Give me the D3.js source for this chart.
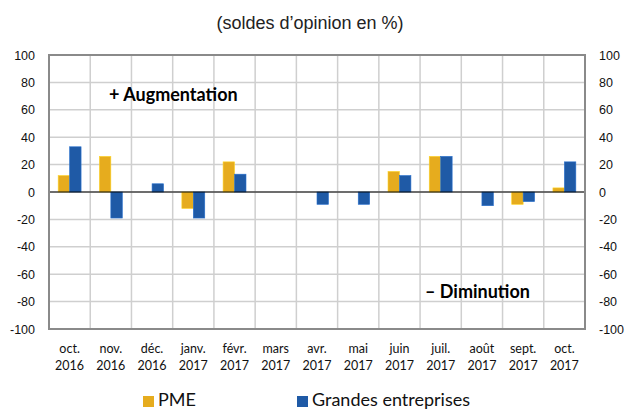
<!DOCTYPE html>
<html>
<head>
<meta charset="utf-8">
<script src="https://cdn.jsdelivr.net/npm/d3@7"></script>
<style>
  body { margin: 0; background: #fff; }
</style>
</head>
<body>
<div id="chart-area"></div>
<script>
var months = ["oct.", "nov.", "déc.", "janv.", "févr.", "mars", "avr.", "mai", "juin", "juil.", "août", "sept.", "oct."]
var years = ["2016", "2016", "2016", "2017", "2017", "2017", "2017", "2017", "2017", "2017", "2017", "2017", "2017"]
var series = ["PME", "Grandes entreprises"]
var pme = [12, 26, 0, -12, 22, 0, 0, 0, 15, 26, 0, -9, 3]
var grandes = [33, -19, 6, -19, 13, 0, -9, -9, 12, 26, -10, -7, 22]
var yTicks = [-100, -80, -60, -40, -20, 0, 20, 40, 60, 80, 100]
var colors = ["#E6AC1E", "#1F5AA6"]

var width = 625, height = 409
var margin = { left: 49, right: 40, top: 55, bottom: 80 }
var plotW = width - margin.left - margin.right
var plotH = height - margin.top - margin.bottom

var svg = d3.select("#chart-area").append("svg")
    .attr("width", width)
    .attr("height", height)

var g = svg.append("g")
    .attr("transform", "translate(" + margin.left + "," + margin.top + ")")

var xScale = d3.scaleBand()
    .domain(d3.range(months.length))
    .range([0, plotW])
    .paddingInner(0)

var inner = d3.scaleBand()
    .domain(series)
    .range([0, xScale.bandwidth()])
    .paddingInner(0)
    .paddingOuter(0.8)

var yScale = d3.scaleLinear()
    .domain([-100, 100])
    .range([plotH, 0])

// title
svg.append("text")
    .attr("x", 310)
    .attr("y", 29)
    .style("text-anchor", "middle")
    .style("font-family", "Liberation Sans, Arial")
    .style("font-size", "18px")
    .style("fill", "#222")
    .text("(soldes d\u2019opinion en %)")

// horizontal grid
g.selectAll(".hgrid").data(yTicks).enter()
    .append("line")
    .attr("x1", 0).attr("x2", plotW)
    .attr("y1", function(d) { return yScale(d) })
    .attr("y2", function(d) { return yScale(d) })
    .style("stroke", "#cfcfcf")
    .style("stroke-width", 1.5)

// vertical grid at category boundaries
g.selectAll(".vgrid").data(d3.range(1, months.length)).enter()
    .append("line")
    .attr("x1", function(d) { return xScale(d) })
    .attr("x2", function(d) { return xScale(d) })
    .attr("y1", 0).attr("y2", plotH)
    .style("stroke", "#cfcfcf")
    .style("stroke-width", 1.5)

// bars
var rows = months.map(function(m, i) { return { i: i, values: [pme[i], grandes[i]] } })
var groups = g.selectAll(".grp").data(rows).enter()
    .append("g")
    .attr("transform", function(d) { return "translate(" + xScale(d.i) + ",0)" })

groups.selectAll("rect").data(function(d) { return d.values.map(function(v, k) { return { v: v, s: series[k], k: k } }) })
    .enter().append("rect")
    .attr("x", function(d) { return inner(d.s) })
    .attr("width", inner.bandwidth())
    .attr("y", function(d) { return yScale(Math.max(0, d.v)) })
    .attr("height", function(d) { return Math.abs(yScale(d.v) - yScale(0)) })
    .attr("fill", function(d) { return colors[d.k] })
    .attr("stroke", function(d) { return d3.rgb(colors[d.k]).brighter(0.6) })
    .attr("stroke-width", 0.6)

// zero line
g.append("line")
    .attr("x1", 0).attr("x2", plotW)
    .attr("y1", yScale(0)).attr("y2", yScale(0))
    .style("stroke", "#000")
    .style("stroke-width", 1.2)

// frame
g.append("rect")
    .attr("width", plotW).attr("height", plotH)
    .style("fill", "none")
    .style("stroke", "#8a8a8a")
    .style("stroke-width", 2)

// y axes left and right (plain hyphen for negatives, as in the original)
var fmt = function(d) { return String(d) }
var yLeft = g.append("g")
    .call(d3.axisLeft(yScale).tickValues(yTicks).tickSize(0).tickPadding(14).tickFormat(fmt))
var yRight = g.append("g")
    .attr("transform", "translate(" + plotW + ",0)")
    .call(d3.axisRight(yScale).tickValues(yTicks).tickSize(0).tickPadding(14).tickFormat(fmt))
;[yLeft, yRight].forEach(function(ax) {
    ax.select(".domain").remove()
    ax.selectAll("text")
        .style("font-family", "Liberation Sans, Arial")
        .style("font-size", "12.5px")
        .style("fill", "#111")
})

// x labels (two lines)
var xLab = g.selectAll(".xlab").data(rows).enter()
    .append("text")
    .attr("x", function(d) { return xScale(d.i) + xScale.bandwidth() / 2 })
    .attr("y", plotH + 24)
    .style("text-anchor", "middle")
    .style("font-family", "Lato, Open Sans, sans-serif")
    .style("font-size", "12.5px")
    .style("fill", "#111")
xLab.append("tspan").text(function(d) { return months[d.i] })
xLab.append("tspan")
    .attr("x", function(d) { return xScale(d.i) + xScale.bandwidth() / 2 })
    .attr("dy", 17)
    .text(function(d) { return years[d.i] })

// annotations
g.append("text")
    .attr("x", 109 - margin.left)
    .attr("y", 101 - margin.top)
    .style("font-family", "Lato, Open Sans, sans-serif")
    .style("font-weight", "bold")
    .style("font-size", "18px")
    .style("fill", "#000")
    .text("+ Augmentation")
g.append("text")
    .attr("x", 425 - margin.left)
    .attr("y", 298 - margin.top)
    .style("font-family", "Lato, Open Sans, sans-serif")
    .style("font-weight", "bold")
    .style("font-size", "18px")
    .style("fill", "#000")
    .text("\u2013 Diminution")

// legend
var legendX = [143, 297]
var legend = svg.append("g")
for (var i = 0; i < series.length; i++) {
    legend.append("rect")
        .attr("x", legendX[i]).attr("y", 396)
        .attr("width", 11).attr("height", 11)
        .attr("fill", colors[i])
    legend.append("text")
        .attr("x", legendX[i] + 15).attr("y", 406)
        .style("font-family", "Lato, Open Sans, sans-serif")
        .style("font-size", "18px")
        .style("fill", "#111")
        .text(series[i])
}
</script>
</body>
</html>
